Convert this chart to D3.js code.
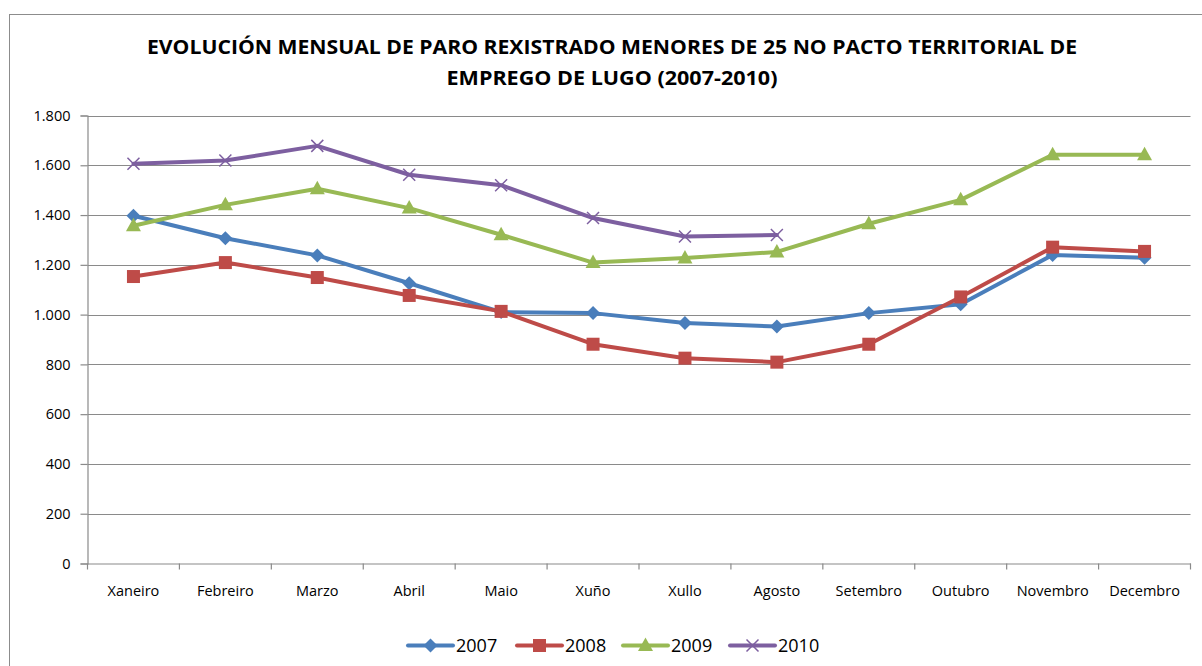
<!DOCTYPE html>
<html><head><meta charset="utf-8">
<script src="https://cdn.jsdelivr.net/npm/d3@7"></script>
<style>body{margin:0;background:#fff}svg{display:block}text{font-family:"Open Sans",sans-serif}</style>
</head><body><svg id="c" width="1202" height="666"></svg>
<script>
const months = ["Xaneiro","Febreiro","Marzo","Abril","Maio","Xuño","Xullo","Agosto","Setembro","Outubro","Novembro","Decembro"];
const s2007 = [1397,1307,1238,1126,1010,1006,966,952,1006,1042,1240,1228];
const s2008 = [1153,1209,1149,1077,1013,881,825,809,881,1071,1271,1254];
const s2009 = [1357,1441,1506,1428,1321,1209,1227,1252,1365,1461,1642,1642];
const s2010 = [1606,1619,1678,1562,1520,1388,1314,1320];
const seriesNames = ["2007","2008","2009","2010"];
const yTicks = [0,200,400,600,800,1000,1200,1400,1600,1800];
const titleLines = ["EVOLUCIÓN MENSUAL DE PARO REXISTRADO MENORES DE 25 NO PACTO TERRITORIAL DE","EMPREGO DE LUGO (2007-2010)"];

const series = [s2007,s2008,s2009,s2010];
const colors = ["#4a7ebb","#be4b48","#98b954","#7d5fa0"];
const shapes = ["diamond","square","triangle","x"];
const FONT = '"Open Sans",sans-serif';

const svg = d3.select("#c");
svg.append("rect").attr("x",9.5).attr("y",14.5).attr("width",1210).attr("height",700)
  .attr("fill","#fff").attr("stroke","#8c8c8c").attr("stroke-width",1);

const L=87.5,R=1190.5,T=115.5,B=563.5;
const x = d3.scaleBand().domain(months).range([L,R]);
const y = d3.scaleLinear().domain([0,1800]).range([B,T]);
const fmt = d => d3.format(",")(d).replace(/,/g,".");

// grid
svg.append("g").selectAll("line").data(yTicks.filter(d=>d>0)).join("line")
  .attr("x1",L).attr("x2",R).attr("y1",d=>Math.round(y(d))+0.5).attr("y2",d=>Math.round(y(d))+0.5)
  .attr("stroke","#8a8a8a").attr("stroke-width",1.2);

// y axis
const ya = svg.append("g").attr("transform",`translate(${L},0)`)
  .call(d3.axisLeft(y).tickValues(yTicks).tickSize(7).tickPadding(10).tickFormat(fmt));
ya.attr("font-family",FONT);
ya.select(".domain").attr("stroke","#8a8a8a").attr("stroke-width",1.2);
ya.selectAll(".tick line").attr("stroke","#8a8a8a").attr("stroke-width",1.2);
ya.selectAll("text").attr("font-size",14.5).attr("fill","#000");

// x axis
const xa = svg.append("g").attr("transform",`translate(0,${B})`)
  .call(d3.axisBottom(x).tickSize(0).tickPadding(22));
xa.attr("font-family",FONT);
xa.select(".domain").attr("stroke","#8a8a8a").attr("stroke-width",1.2);
xa.selectAll("text").attr("font-size",14.5).attr("fill","#000");
const bounds = months.map((m,i)=>x(m)).concat([R]);
svg.append("g").selectAll("line").data(bounds).join("line")
  .attr("x1",d=>d).attr("x2",d=>d).attr("y1",B).attr("y2",B+6)
  .attr("stroke","#8a8a8a").attr("stroke-width",1.2);

function marker(g,shape,color,cx,cy){
  if(shape==="diamond"){
    g.append("path").attr("d",`M${cx},${cy-7}L${cx+7},${cy}L${cx},${cy+7}L${cx-7},${cy}Z`).attr("fill",color);
  } else if(shape==="square"){
    g.append("rect").attr("x",cx-6.5).attr("y",cy-6.5).attr("width",13).attr("height",13).attr("fill",color);
  } else if(shape==="triangle"){
    g.append("path").attr("d",`M${cx},${cy-8}L${cx+7.5},${cy+5.5}L${cx-7.5},${cy+5.5}Z`).attr("fill",color);
  } else {
    g.append("path").attr("d",`M${cx-6},${cy-6}L${cx+6},${cy+6}M${cx-6},${cy+6}L${cx+6},${cy-6}`)
      .attr("stroke",color).attr("stroke-width",1.5).attr("fill","none");
  }
}

const line = d3.line().x((d,i)=>x(months[i])+x.bandwidth()/2).y(d=>y(d));
series.forEach((s,k)=>{
  const g = svg.append("g");
  g.append("path").attr("d",line(s)).attr("fill","none").attr("stroke",colors[k])
    .attr("stroke-width",4).attr("stroke-linejoin","round").attr("stroke-linecap","round");
  s.forEach((v,i)=>marker(g,shapes[k],colors[k],x(months[i])+x.bandwidth()/2,y(v)));
});

// title
svg.append("g").selectAll("text").data(titleLines).join("text")
  .attr("x",612).attr("y",(d,i)=>54+i*30.5).attr("text-anchor","middle")
  .attr("font-size",20).attr("font-weight","bold").attr("fill","#000")
  .attr("textLength",(d,i)=>i===0?930:331).attr("lengthAdjust","spacingAndGlyphs")
  .text(d=>d);

// legend
const legX = [408,517,623,730];
const leg = svg.append("g");
seriesNames.forEach((n,k)=>{
  const cy=645.5;
  leg.append("line").attr("x1",legX[k]).attr("x2",legX[k]+45).attr("y1",cy).attr("y2",cy)
    .attr("stroke",colors[k]).attr("stroke-width",4).attr("stroke-linecap","round");
  marker(leg,shapes[k],colors[k],legX[k]+22.5,cy);
  leg.append("text").attr("x",legX[k]+48).attr("y",cy+6.5).attr("font-size",18).attr("fill","#000").text(n);
});
</script></body></html>
